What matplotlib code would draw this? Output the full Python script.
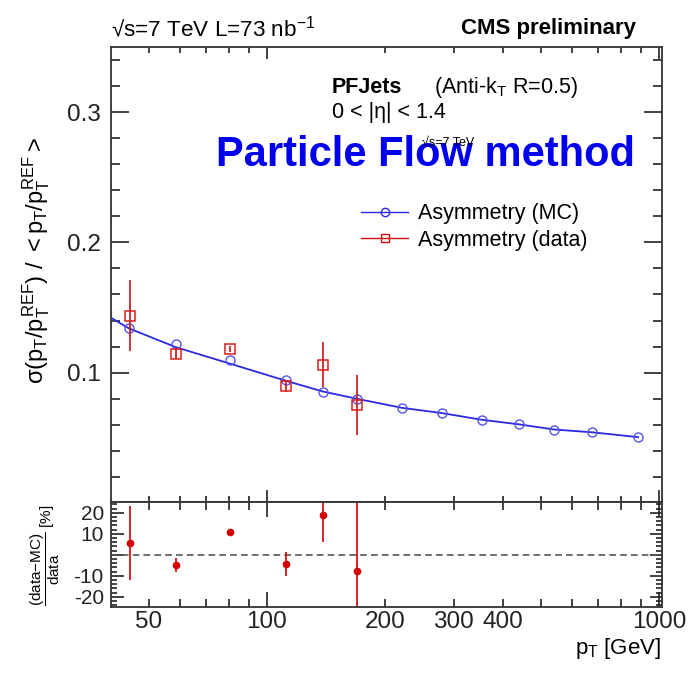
import numpy as np
import matplotlib.pyplot as plt
from matplotlib.lines import Line2D

plt.rcParams['font.family'] = ['Liberation Sans', 'DejaVu Sans']
plt.rcParams['mathtext.fontset'] = 'custom'
plt.rcParams['mathtext.rm'] = 'Liberation Sans'
plt.rcParams['mathtext.it'] = 'Liberation Sans'
plt.rcParams['mathtext.bf'] = 'Liberation Sans:bold'

# MC asymmetry points
mc_pt = [44.5, 58.7, 80.6, 111.8, 138.7, 169.4, 221, 279, 354, 440, 539, 676, 884]
mc_val = [0.1346, 0.1218, 0.1095, 0.0944, 0.0854, 0.0800, 0.0728, 0.0692,
          0.0636, 0.0605, 0.0562, 0.0544, 0.0505]

# fitted curve
fit_pt = [40, 44.5, 58.7, 80.6, 111.8, 138.7, 169.4, 221, 279, 354, 440, 539, 676, 884]
fit_val = [0.1423, 0.1340, 0.1195, 0.1069, 0.0938, 0.0856, 0.0800, 0.0730, 0.0690,
           0.0638, 0.0603, 0.0564, 0.0542, 0.0505]

# data asymmetry points
data_pt = [44.8, 58.7, 80.6, 111.8, 138.7, 169.4]
data_val = [0.1438, 0.1144, 0.1182, 0.0895, 0.1062, 0.0752]
data_err = [0.027, 0.004, 0.002, 0.004, 0.0175, 0.023]

# (data-MC)/data in %
ratio_val = [5.6, -4.8, 10.8, -4.3, 18.9, -7.9]
ratio_err = [17.5, 3.5, 1.5, 5.7, 12.9, 40.0]

xticks_lab = [50, 100, 200, 300, 400, 1000]

fig = plt.figure(figsize=(6.88, 6.76), dpi=100)
ax = fig.add_axes([0.1609, 0.2570, 0.8009, 0.6735])
axr = fig.add_axes([0.1609, 0.1016, 0.8009, 0.1553], sharex=ax)

blue = '#2a2ae0'
red = '#dd1c1c'

ax.plot(fit_pt, fit_val, '-', color=blue, lw=1.3, zorder=2)
ax.plot(mc_pt, mc_val, 'o', mfc='none', mec='#5555e8', mew=1.0, ms=6.5, zorder=3)
ax.errorbar(data_pt, data_val, yerr=data_err, fmt='s', mfc='none', mec=red,
            mew=1.1, ms=7, ecolor='#cc1010', elinewidth=1.2, capsize=0, zorder=4)

axr.axhline(0, color='#555555', ls='--', lw=1.2, dashes=(4, 2.5))
axr.errorbar(data_pt, ratio_val, yerr=ratio_err, fmt='o', color='#d40000',
             ms=4.5, elinewidth=1.2, capsize=0)

ax.set_xscale('log')
ax.set_xlim(40, 1016)
ax.set_ylim(0.0005, 0.35)
axr.set_ylim(-25, 25)

ax.set_yticks([0.1, 0.2, 0.3])
ax.set_yticklabels(['0.1', '0.2', '0.3'])
ax.set_yticks(np.arange(0.02, 0.35, 0.02), minor=True)

maj = [100, 1000]
mnr = [50, 60, 70, 80, 90, 200, 300, 400, 500, 600, 700, 800, 900]
for a in (ax, axr):
    a.set_xticks(maj)
    a.set_xticks(mnr, minor=True)
ax.tick_params(axis='x', which='both', labelbottom=False)
axr.set_xticklabels(['100', '1000'])
axr.set_xticklabels([str(v) if v in xticks_lab else '' for v in mnr], minor=True)

axr.set_yticks([-20, -10, 0, 10, 20])
axr.set_yticklabels(['-20', '-10', '', '10', '20'])
axr.set_yticks(np.arange(-24, 25, 2), minor=True)

for a in (ax, axr):
    a.tick_params(which='both', direction='in', top=True, right=True, colors='#222222')
    for s in a.spines.values():
        s.set_linewidth(1.3)
        s.set_color('#333333')
ax.tick_params(axis='y', which='major', length=13, width=1.2, labelsize=17.5, pad=7)
ax.tick_params(axis='y', which='minor', length=6.5, width=1.2)
ax.tick_params(axis='x', which='major', length=8.5, width=1.2)
ax.tick_params(axis='x', which='minor', length=4.5, width=1.2)
axr.tick_params(axis='y', which='major', length=9, width=1.2, labelsize=15, pad=5)
axr.tick_params(axis='y', which='minor', length=4.5, width=1.2)
axr.tick_params(axis='x', which='major', length=11, width=1.2, labelsize=17.5, pad=3)
axr.tick_params(axis='x', which='minor', length=6, width=1.2, labelsize=17.5, pad=3)

ax.set_ylabel(r'$\sigma(p_{T}/p_{T}^{REF})\ /\ <p_{T}/p_{T}^{REF}>$', fontsize=17)
ax.yaxis.set_label_coords(-0.107, 0.53)
axr.set_ylabel(r'$\dfrac{\mathrm{(data{-}MC)}}{\mathrm{data}}$ [%]', fontsize=11)
axr.yaxis.set_label_coords(-0.088, 0.5)

fig.text(0.961, 0.041, r'$p_{T}$ [GeV]', fontsize=16, ha='right', va='center')

fig.text(0.161, 0.958, '√s=7 TeV L=73 nb$^{-1}$', fontsize=16.2, ha='left', va='center')
fig.text(0.925, 0.958, 'CMS preliminary', fontsize=16, fontweight='bold', ha='right', va='center')

fig.text(0.482, 0.870, 'PFJets', fontsize=15.5, fontweight='bold', ha='left', va='center')
fig.text(0.631, 0.870, r'(Anti-k$_{T}$ R=0.5)', fontsize=15.5, ha='left', va='center')
fig.text(0.482, 0.833, '0 < |η| < 1.4', fontsize=15.5, ha='left', va='center')
fig.text(0.619, 0.770, 'Particle Flow method', fontsize=30, fontweight='bold',
         color='#0000ee', ha='center', va='center')
fig.text(0.614, 0.788, '√s=7 TeV', fontsize=9, ha='left', va='center')

handles = [Line2D([0], [0], color=blue, lw=1.0, marker='o', mfc='none', mec=blue, ms=6),
           Line2D([0], [0], color='#cc1010', lw=1.0, marker='s', mfc='none', mec='#cc1010', ms=6)]
fig.legend(handles, ['Asymmetry (MC)', 'Asymmetry (data)'], loc='center left',
           bbox_to_anchor=(0.5247, 0.6640), frameon=False, fontsize=15.5,
           borderpad=0, borderaxespad=0, handlelength=2.2, handletextpad=0.45,
           labelspacing=0.25)

fig.savefig('out.png', dpi=100)
